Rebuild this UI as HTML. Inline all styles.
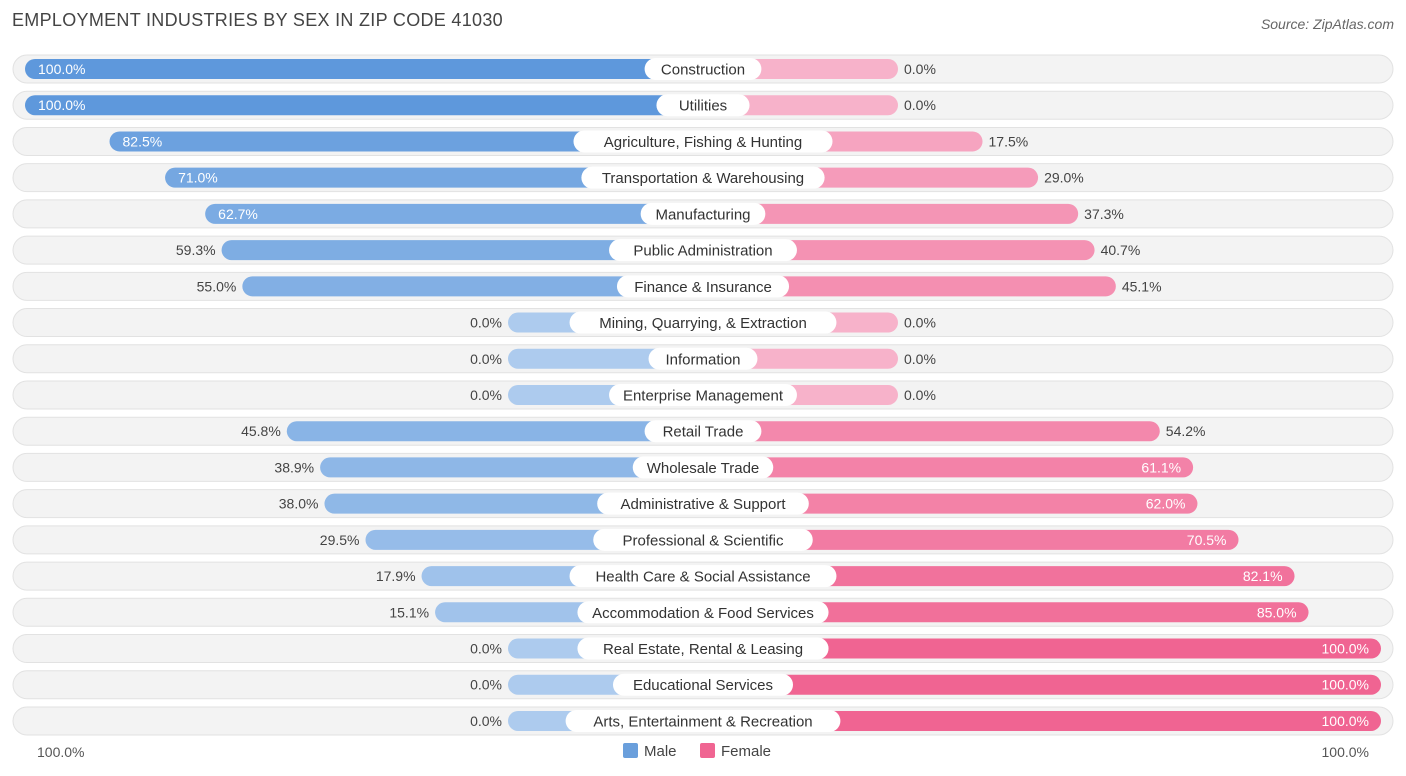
<!DOCTYPE html>
<html><head><meta charset="utf-8"><style>
body{margin:0;width:1406px;height:776px;background:#fff;font-family:"Liberation Sans",sans-serif;overflow:hidden;position:relative}
.t{position:absolute;white-space:nowrap}
</style></head><body>
<div class="t" style="left:12px;top:10px;font-size:18px;color:#444;letter-spacing:0.3px">EMPLOYMENT INDUSTRIES BY SEX IN ZIP CODE 41030</div>
<div class="t" style="right:12px;top:16px;font-size:14px;color:#666;font-style:italic">Source: ZipAtlas.com</div>
<svg id="c" width="1406" height="776" style="position:absolute;left:0;top:0"></svg>
<div class="t" style="left:37px;top:744px;font-size:14px;color:#555">100.0%</div>
<div class="t" style="right:37px;top:744px;font-size:14px;color:#555">100.0%</div>
<div class="t" style="left:623px;top:743px;font-size:15px;color:#444"><span style="display:inline-block;width:15px;height:15px;background:#6a9fdc;border-radius:2px;vertical-align:-2px;margin-right:6px"></span>Male</div>
<div class="t" style="left:700px;top:743px;font-size:15px;color:#444"><span style="display:inline-block;width:15px;height:15px;background:#f06592;border-radius:2px;vertical-align:-2px;margin-right:6px"></span>Female</div>
<script>
const categories=["Construction","Utilities","Agriculture, Fishing & Hunting","Transportation & Warehousing","Manufacturing","Public Administration","Finance & Insurance","Mining, Quarrying, & Extraction","Information","Enterprise Management","Retail Trade","Wholesale Trade","Administrative & Support","Professional & Scientific","Health Care & Social Assistance","Accommodation & Food Services","Real Estate, Rental & Leasing","Educational Services","Arts, Entertainment & Recreation"];
const maleValues=[100,100,82.5,71.0,62.7,59.3,55.0,0,0,0,45.8,38.9,38.0,29.5,17.9,15.1,0,0,0];
const femaleValues=[0,0,17.5,29.0,37.3,40.7,45.1,0,0,0,54.2,61.1,62.0,70.5,82.1,85.0,100,100,100];
const NS="http://www.w3.org/2000/svg",svg=document.getElementById('c');
const cx=703,base=195,unit=4.83,y0=69,dy=36.22;
function xM(v){return cx-base-v*unit}
function xF(v){return cx+base+v*unit}
function mix(a,b,t){return 'rgb('+a.map((c,i)=>Math.round(c+(b[i]-c)*t)).join(',')+')'}
function el(tag,attrs,name){const e=document.createElementNS(NS,tag);for(const k in attrs)e.setAttribute(k,attrs[k]);


svg.appendChild(e);return e}
categories.forEach((cat,i)=>{
 const y=y0+i*dy,m=maleValues[i],f=femaleValues[i];
 el('rect',{x:13,y:y-14,width:1380,height:28,rx:14,fill:'#f3f3f3',stroke:'#e2e2e2'},'row-bg');
 const xm=xM(m);
 el('rect',{x:xm,y:y-10,width:cx-xm,height:20,rx:10,fill:mix([173,203,238],[94,152,220],m/100)},'bar-male');
 const xf=xF(f);
 el('rect',{x:cx,y:y-10,width:xf-cx,height:20,rx:10,fill:mix([247,178,202],[240,100,146],f/100)},'bar-female');
 const lw=cat.length*7.9+22;
 el('rect',{x:cx-lw/2,y:y-11,width:lw,height:22,rx:11,fill:'#fff'},'category-label-bg');
 const t=el('text',{x:cx,y:y+5.5,'text-anchor':'middle','font-size':15,fill:'#333','font-family':'Liberation Sans'},'category-label');t.textContent=cat;
 const mi=m>=60;
 const tm=el('text',{x:mi?xm+13:xm-6,y:y+5,'text-anchor':mi?'start':'end','font-size':14,fill:mi?'#fff':'#444','font-family':'Liberation Sans'},'male-value');tm.textContent=m.toFixed(1)+'%';
 const fi=f>=60;
 const tf=el('text',{x:fi?xf-12:xf+6,y:y+5,'text-anchor':fi?'end':'start','font-size':14,fill:fi?'#fff':'#444','font-family':'Liberation Sans'},'female-value');tf.textContent=f.toFixed(1)+'%';
});
</script>
</body></html>
